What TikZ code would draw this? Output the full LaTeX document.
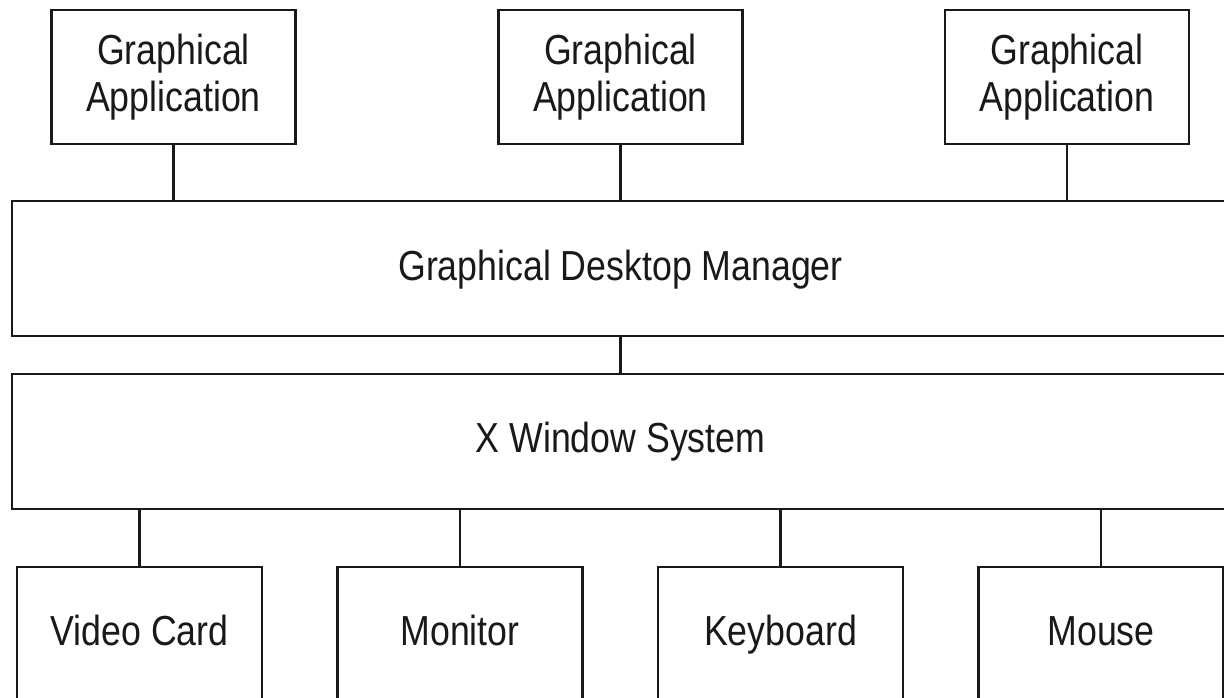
\documentclass[tikz,border=0pt]{standalone}
\usepackage{fontspec}
\setmainfont{Liberation Sans}[FakeStretch=0.85]
\begin{document}
\begin{tikzpicture}[x=1pt,y=-1pt,
  box/.style={draw=black!90,line width=2.2pt,rectangle,inner sep=0pt,
    font=\fontsize{42}{47}\selectfont,align=center,text=black!90},
  app/.style={box,minimum width=244pt,minimum height=134pt},
  wide/.style={box,minimum width=1230pt,minimum height=135pt},
  dev/.style={box,minimum width=245pt,minimum height=140pt,text height=30pt,text depth=14pt},
  lbl/.style={font=\fontsize{42}{47}\selectfont,text=black!90},
  link/.style={draw=black!90,line width=2.2pt}]
\useasboundingbox (0,0) rectangle (1224,698);
\clip (0,0) rectangle (1224,698);
\node[app] (a1) at (173.5,77) {Graphical\\Application};
\node[app] (a2) at (620.5,77) {Graphical\\Application};
\node[app] (a3) at (1067,77) {Graphical\\Application};
\node[wide,anchor=west] (gdm) at (11,268.5) {};
\node[lbl] (gdmt) at (620.5,270) {Graphical Desktop Manager};
\node[wide,anchor=west] (xws) at (11,441.5) {};
\node[lbl] (xwst) at (620.5,441.5) {X Window System};
\node[dev] (vc) at (139.5,637) {Video Card};
\node[dev] (mon) at (460,637) {Monitor};
\node[dev] (kb) at (780.5,637) {Keyboard};
\node[dev] (ms) at (1101,637) {Mouse};
\draw[link] (a1.south) -- (a1.south |- gdm.north);
\draw[link] (a2.south) -- (a2.south |- gdm.north);
\draw[link] (a3.south) -- (a3.south |- gdm.north);
\draw[link] (gdm.south -| xwst) -- (xws.north -| xwst);
\draw[link] (vc.north |- xws.south) -- (vc.north);
\draw[link] (mon.north |- xws.south) -- (mon.north);
\draw[link] (kb.north |- xws.south) -- (kb.north);
\draw[link] (ms.north |- xws.south) -- (ms.north);
\end{tikzpicture}
\end{document}
